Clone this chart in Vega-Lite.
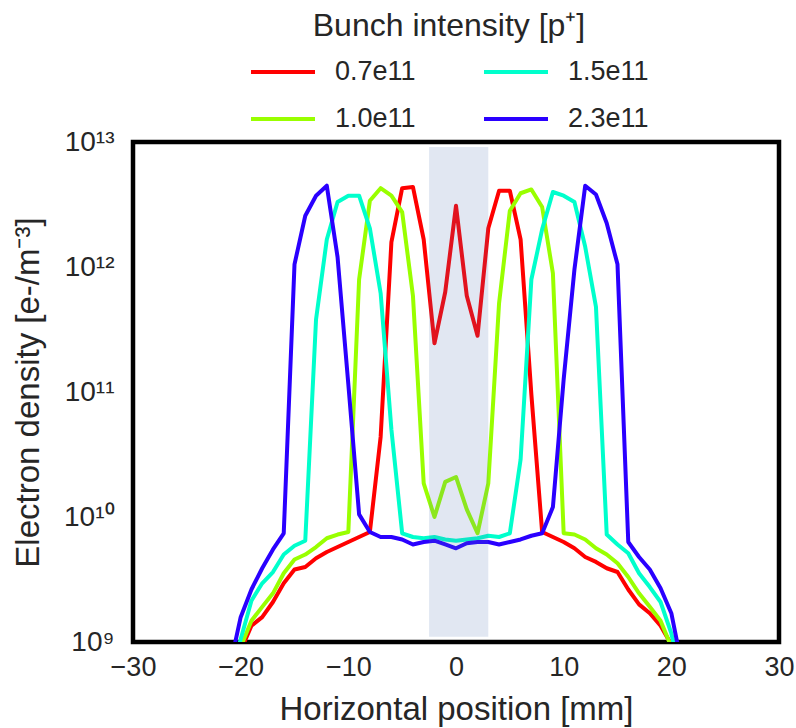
{
  "$schema": "https://vega.github.io/schema/vega-lite/v6.json",
  "width": 646,
  "height": 500,
  "autosize": {"type": "none"},
  "padding": {"left": 133, "top": 142, "right": 17, "bottom": 86},
  "background": "white",
  "config": {
    "font": "Liberation Sans",
    "view": {"stroke": "black", "strokeWidth": 4.5},
    "axis": {"domain": false, "ticks": false, "grid": false, "labelFont": "Liberation Sans", "titleFont": "Liberation Sans", "labelColor": "#262626", "titleColor": "#262626", "labelFontSize": 27, "titleFontSize": 33, "titleFontWeight": "normal", "labelFlush": false, "labelOverlap": false, "labelBound": false},
    "legend": {"labelFont": "Liberation Sans", "titleFont": "Liberation Sans", "labelColor": "#262626", "titleColor": "#262626"}
  },
  "datasets": {
    "band": [{"x1": -2.5, "x2": 3.0, "y1": 1.1e9, "y2": 9.1e12}],
    "profiles": [
      {"x": -21, "b": "0.7e11", "n": 3.98e8}, {"x": -20, "b": "0.7e11", "n": 8.51e8}, {"x": -19, "b": "0.7e11", "n": 1.35e9}, {"x": -18, "b": "0.7e11", "n": 1.58e9}, {"x": -17, "b": "0.7e11", "n": 2.09e9}, {"x": -16, "b": "0.7e11", "n": 2.95e9}, {"x": -15, "b": "0.7e11", "n": 3.80e9}, {"x": -14, "b": "0.7e11", "n": 3.98e9}, {"x": -13, "b": "0.7e11", "n": 4.68e9}, {"x": -12, "b": "0.7e11", "n": 5.25e9}, {"x": -11, "b": "0.7e11", "n": 5.75e9}, {"x": -10, "b": "0.7e11", "n": 6.31e9}, {"x": -9, "b": "0.7e11", "n": 6.92e9}, {"x": -8, "b": "0.7e11", "n": 7.59e9}, {"x": -7, "b": "0.7e11", "n": 4.37e10}, {"x": -6, "b": "0.7e11", "n": 1.58e12}, {"x": -5, "b": "0.7e11", "n": 4.27e12}, {"x": -4, "b": "0.7e11", "n": 4.37e12}, {"x": -3, "b": "0.7e11", "n": 1.66e12}, {"x": -2, "b": "0.7e11", "n": 2.45e11}, {"x": -1, "b": "0.7e11", "n": 6.31e11}, {"x": 0, "b": "0.7e11", "n": 3.09e12}, {"x": 1, "b": "0.7e11", "n": 5.89e11}, {"x": 2, "b": "0.7e11", "n": 2.82e11}, {"x": 3, "b": "0.7e11", "n": 2.04e12}, {"x": 4, "b": "0.7e11", "n": 4.07e12}, {"x": 5, "b": "0.7e11", "n": 4.07e12}, {"x": 6, "b": "0.7e11", "n": 1.66e12}, {"x": 7, "b": "0.7e11", "n": 9.55e10}, {"x": 8, "b": "0.7e11", "n": 7.59e9}, {"x": 9, "b": "0.7e11", "n": 6.92e9}, {"x": 10, "b": "0.7e11", "n": 6.31e9}, {"x": 11, "b": "0.7e11", "n": 5.62e9}, {"x": 12, "b": "0.7e11", "n": 4.79e9}, {"x": 13, "b": "0.7e11", "n": 4.37e9}, {"x": 14, "b": "0.7e11", "n": 3.89e9}, {"x": 15, "b": "0.7e11", "n": 3.63e9}, {"x": 16, "b": "0.7e11", "n": 2.63e9}, {"x": 17, "b": "0.7e11", "n": 2.00e9}, {"x": 18, "b": "0.7e11", "n": 1.70e9}, {"x": 19, "b": "0.7e11", "n": 1.35e9}, {"x": 20, "b": "0.7e11", "n": 9.55e8}, {"x": 21, "b": "0.7e11", "n": 3.98e8},
      {"x": -21, "b": "1.0e11", "n": 3.98e8}, {"x": -20, "b": "1.0e11", "n": 9.12e8}, {"x": -19, "b": "1.0e11", "n": 1.48e9}, {"x": -18, "b": "1.0e11", "n": 1.91e9}, {"x": -17, "b": "1.0e11", "n": 2.45e9}, {"x": -16, "b": "1.0e11", "n": 3.55e9}, {"x": -15, "b": "1.0e11", "n": 4.57e9}, {"x": -14, "b": "1.0e11", "n": 5.01e9}, {"x": -13, "b": "1.0e11", "n": 5.75e9}, {"x": -12, "b": "1.0e11", "n": 6.76e9}, {"x": -11, "b": "1.0e11", "n": 7.24e9}, {"x": -10, "b": "1.0e11", "n": 7.59e9}, {"x": -9, "b": "1.0e11", "n": 7.94e11}, {"x": -8, "b": "1.0e11", "n": 3.39e12}, {"x": -7, "b": "1.0e11", "n": 4.27e12}, {"x": -6, "b": "1.0e11", "n": 3.72e12}, {"x": -5, "b": "1.0e11", "n": 2.75e12}, {"x": -4, "b": "1.0e11", "n": 5.89e11}, {"x": -3, "b": "1.0e11", "n": 1.86e10}, {"x": -2, "b": "1.0e11", "n": 1.00e10}, {"x": -1, "b": "1.0e11", "n": 1.91e10}, {"x": 0, "b": "1.0e11", "n": 2.09e10}, {"x": 1, "b": "1.0e11", "n": 1.15e10}, {"x": 2, "b": "1.0e11", "n": 7.41e9}, {"x": 3, "b": "1.0e11", "n": 1.86e10}, {"x": 4, "b": "1.0e11", "n": 5.13e11}, {"x": 5, "b": "1.0e11", "n": 2.82e12}, {"x": 6, "b": "1.0e11", "n": 3.89e12}, {"x": 7, "b": "1.0e11", "n": 4.17e12}, {"x": 8, "b": "1.0e11", "n": 3.02e12}, {"x": 9, "b": "1.0e11", "n": 8.91e11}, {"x": 10, "b": "1.0e11", "n": 7.41e9}, {"x": 11, "b": "1.0e11", "n": 7.24e9}, {"x": 12, "b": "1.0e11", "n": 6.61e9}, {"x": 13, "b": "1.0e11", "n": 5.62e9}, {"x": 14, "b": "1.0e11", "n": 5.01e9}, {"x": 15, "b": "1.0e11", "n": 4.27e9}, {"x": 16, "b": "1.0e11", "n": 3.31e9}, {"x": 17, "b": "1.0e11", "n": 2.45e9}, {"x": 18, "b": "1.0e11", "n": 1.91e9}, {"x": 19, "b": "1.0e11", "n": 1.48e9}, {"x": 20, "b": "1.0e11", "n": 9.12e8}, {"x": 21, "b": "1.0e11", "n": 3.98e8},
      {"x": -21, "b": "1.5e11", "n": 5.01e8}, {"x": -20, "b": "1.5e11", "n": 1.05e9}, {"x": -19, "b": "1.5e11", "n": 2.14e9}, {"x": -18, "b": "1.5e11", "n": 2.95e9}, {"x": -17, "b": "1.5e11", "n": 3.63e9}, {"x": -16, "b": "1.5e11", "n": 5.01e9}, {"x": -15, "b": "1.5e11", "n": 5.89e9}, {"x": -14, "b": "1.5e11", "n": 6.46e9}, {"x": -13, "b": "1.5e11", "n": 3.80e11}, {"x": -12, "b": "1.5e11", "n": 1.66e12}, {"x": -11, "b": "1.5e11", "n": 3.31e12}, {"x": -10, "b": "1.5e11", "n": 3.72e12}, {"x": -9, "b": "1.5e11", "n": 3.72e12}, {"x": -8, "b": "1.5e11", "n": 2.04e12}, {"x": -7, "b": "1.5e11", "n": 6.17e11}, {"x": -6, "b": "1.5e11", "n": 5.01e10}, {"x": -5, "b": "1.5e11", "n": 7.41e9}, {"x": -4, "b": "1.5e11", "n": 6.92e9}, {"x": -3, "b": "1.5e11", "n": 6.76e9}, {"x": -2, "b": "1.5e11", "n": 6.92e9}, {"x": -1, "b": "1.5e11", "n": 6.61e9}, {"x": 0, "b": "1.5e11", "n": 6.46e9}, {"x": 1, "b": "1.5e11", "n": 6.61e9}, {"x": 2, "b": "1.5e11", "n": 6.76e9}, {"x": 3, "b": "1.5e11", "n": 7.08e9}, {"x": 4, "b": "1.5e11", "n": 6.92e9}, {"x": 5, "b": "1.5e11", "n": 7.41e9}, {"x": 6, "b": "1.5e11", "n": 2.88e10}, {"x": 7, "b": "1.5e11", "n": 7.94e11}, {"x": 8, "b": "1.5e11", "n": 2.00e12}, {"x": 9, "b": "1.5e11", "n": 3.98e12}, {"x": 10, "b": "1.5e11", "n": 3.72e12}, {"x": 11, "b": "1.5e11", "n": 3.31e12}, {"x": 12, "b": "1.5e11", "n": 1.45e12}, {"x": 13, "b": "1.5e11", "n": 4.79e11}, {"x": 14, "b": "1.5e11", "n": 7.24e9}, {"x": 15, "b": "1.5e11", "n": 6.03e9}, {"x": 16, "b": "1.5e11", "n": 5.13e9}, {"x": 17, "b": "1.5e11", "n": 3.55e9}, {"x": 18, "b": "1.5e11", "n": 2.75e9}, {"x": 19, "b": "1.5e11", "n": 2.09e9}, {"x": 20, "b": "1.5e11", "n": 1.17e9}, {"x": 21, "b": "1.5e11", "n": 5.01e8},
      {"x": -21, "b": "2.3e11", "n": 6.31e8}, {"x": -20, "b": "2.3e11", "n": 1.58e9}, {"x": -19, "b": "2.3e11", "n": 2.63e9}, {"x": -18, "b": "2.3e11", "n": 3.89e9}, {"x": -17, "b": "2.3e11", "n": 5.50e9}, {"x": -16, "b": "2.3e11", "n": 7.41e9}, {"x": -15, "b": "2.3e11", "n": 1.05e12}, {"x": -14, "b": "2.3e11", "n": 2.57e12}, {"x": -13, "b": "2.3e11", "n": 3.72e12}, {"x": -12, "b": "2.3e11", "n": 4.47e12}, {"x": -11, "b": "2.3e11", "n": 1.20e12}, {"x": -10, "b": "2.3e11", "n": 1.15e11}, {"x": -9, "b": "2.3e11", "n": 1.05e10}, {"x": -8, "b": "2.3e11", "n": 7.59e9}, {"x": -7, "b": "2.3e11", "n": 6.92e9}, {"x": -6, "b": "2.3e11", "n": 6.92e9}, {"x": -5, "b": "2.3e11", "n": 6.61e9}, {"x": -4, "b": "2.3e11", "n": 6.03e9}, {"x": -3, "b": "2.3e11", "n": 6.31e9}, {"x": -2, "b": "2.3e11", "n": 6.46e9}, {"x": -1, "b": "2.3e11", "n": 6.03e9}, {"x": 0, "b": "2.3e11", "n": 5.62e9}, {"x": 1, "b": "2.3e11", "n": 6.17e9}, {"x": 2, "b": "2.3e11", "n": 6.31e9}, {"x": 3, "b": "2.3e11", "n": 6.31e9}, {"x": 4, "b": "2.3e11", "n": 6.03e9}, {"x": 5, "b": "2.3e11", "n": 6.31e9}, {"x": 6, "b": "2.3e11", "n": 6.61e9}, {"x": 7, "b": "2.3e11", "n": 7.08e9}, {"x": 8, "b": "2.3e11", "n": 7.41e9}, {"x": 9, "b": "2.3e11", "n": 1.20e10}, {"x": 10, "b": "2.3e11", "n": 1.26e11}, {"x": 11, "b": "2.3e11", "n": 9.55e11}, {"x": 12, "b": "2.3e11", "n": 4.47e12}, {"x": 13, "b": "2.3e11", "n": 3.80e12}, {"x": 14, "b": "2.3e11", "n": 2.24e12}, {"x": 15, "b": "2.3e11", "n": 1.05e12}, {"x": 16, "b": "2.3e11", "n": 6.31e9}, {"x": 17, "b": "2.3e11", "n": 4.79e9}, {"x": 18, "b": "2.3e11", "n": 3.80e9}, {"x": 19, "b": "2.3e11", "n": 2.69e9}, {"x": 20, "b": "2.3e11", "n": 1.70e9}, {"x": 21, "b": "2.3e11", "n": 6.31e8}
    ]
  },
  "layer": [
    {
      "data": {"name": "profiles"},
      "mark": {"type": "line", "strokeWidth": 4, "clip": true, "strokeJoin": "round"},
      "encoding": {
        "x": {"field": "x", "type": "quantitative", "scale": {"domain": [-30, 30], "nice": false, "zero": false},
          "axis": {"values": [-30, -20, -10, 0, 10, 20, 30], "title": "Horizontal position [mm]", "labelPadding": 12, "titlePadding": 13}},
        "y": {"field": "n", "type": "quantitative", "scale": {"type": "log", "domain": [1e9, 1e13], "nice": false},
          "axis": {"values": [1e9, 1e10, 1e11, 1e12, 1e13], "title": "Electron density [e-/m⁻³]", "labelPadding": 19, "titlePadding": 18, "labelFontSize": 28,
            "labelExpr": "datum.value > 5e12 ? '10¹³' : datum.value > 5e11 ? '10¹²' : datum.value > 5e10 ? '10¹¹' : datum.value > 5e9 ? '10¹⁰' : '10⁹'"}},
        "color": {"field": "b", "type": "nominal",
          "scale": {"domain": ["0.7e11", "1.5e11", "1.0e11", "2.3e11"], "range": ["#ff0000", "#00ffcc", "#99ff00", "#2a00ff"]},
          "legend": {"title": "Bunch intensity [p⁺]", "orient": "none", "legendX": 116, "legendY": -131, "columns": 2, "direction": "horizontal",
            "symbolType": "stroke", "symbolSize": 4096, "symbolStrokeWidth": 4, "labelFontSize": 27, "titleFontSize": 32, "titleFontWeight": "normal",
            "labelOffset": 18, "columnPadding": 60, "rowPadding": -9, "titleAnchor": "middle", "titlePadding": -5, "labelLimit": 300, "titleLimit": 700}}
      }
    },
    {
      "data": {"name": "band"},
      "mark": {"type": "rect", "color": "#4c72b0", "opacity": 0.17},
      "encoding": {
        "x": {"field": "x1", "type": "quantitative"},
        "x2": {"field": "x2"},
        "y": {"field": "y1", "type": "quantitative"},
        "y2": {"field": "y2"}
      }
    }
  ]
}
